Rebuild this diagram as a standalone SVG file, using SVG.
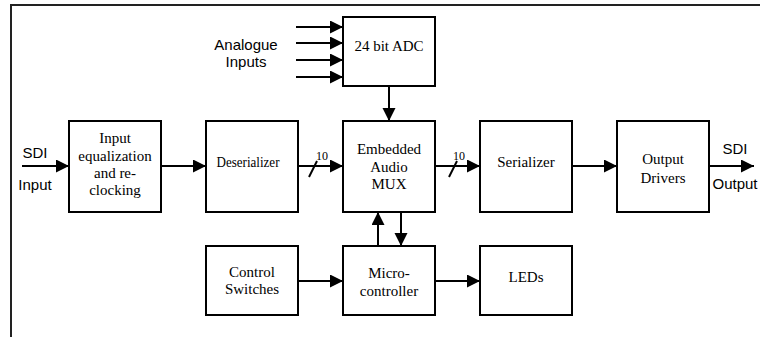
<svg xmlns="http://www.w3.org/2000/svg" width="760" height="337" viewBox="0 0 760 337">
<style>
.box{fill:#fff;stroke:#000;stroke-width:2}
.lbl{font-family:"Liberation Serif","Times New Roman",serif;font-size:15px;text-anchor:middle;fill:#000}
.sans{font-family:"Liberation Sans",Arial,sans-serif;font-size:15px;text-anchor:middle;fill:#000}
.small{font-family:"Liberation Serif","Times New Roman",serif;font-size:12px;text-anchor:middle;fill:#000}
.ln{stroke:#000;stroke-width:2;fill:none}
.arr{stroke:#000;stroke-width:2;fill:none;marker-end:url(#ah)}
</style>
<defs>
<marker id="ah" markerUnits="userSpaceOnUse" markerWidth="14" markerHeight="14" refX="13" refY="6.5" orient="auto">
<path d="M0,0 L13,6.5 L0,13 Z" fill="#000"/>
</marker>
</defs>
<rect width="760" height="337" fill="#fff"/>
<g id="frame">
<path d="M11,337 L11,5 L760,5" stroke="#222" stroke-width="2" fill="none"/>
</g>
<g id="connectors">
<line class="arr" x1="296" y1="27" x2="343" y2="27"/>
<line class="arr" x1="296" y1="43" x2="343" y2="43"/>
<line class="arr" x1="296" y1="60" x2="343" y2="60"/>
<line class="arr" x1="296" y1="77" x2="343" y2="77"/>
<line class="arr" x1="22" y1="166" x2="69" y2="166"/>
<line class="arr" x1="161" y1="166" x2="206" y2="166"/>
<line class="arr" x1="298" y1="166" x2="343" y2="166"/>
<line class="ln" x1="317" y1="161" x2="309" y2="177"/>
<line class="arr" x1="435" y1="166" x2="480" y2="166"/>
<line class="ln" x1="457" y1="161" x2="449" y2="177"/>
<line class="arr" x1="572" y1="166" x2="617" y2="166"/>
<line class="arr" x1="709" y1="166" x2="754" y2="166"/>
<line class="arr" x1="389" y1="86" x2="389" y2="121"/>
<line class="arr" x1="378" y1="246" x2="378" y2="212"/>
<line class="arr" x1="401" y1="212" x2="401" y2="246"/>
<line class="arr" x1="298" y1="281" x2="343" y2="281"/>
<line class="arr" x1="435" y1="281" x2="480" y2="281"/>
</g>
<g id="labels">
<text class="sans" x="246" y="50">Analogue</text>
<text class="sans" x="246" y="67">Inputs</text>
<text class="sans" x="35" y="158">SDI</text>
<text class="sans" x="35" y="190">Input</text>
<text class="sans" x="735" y="154">SDI</text>
<text class="sans" x="735" y="189">Output</text>
<text class="small" x="322" y="160">10</text>
<text class="small" x="459" y="160">10</text>
</g>
<g id="adc">
<rect class="box" x="343" y="17" width="92" height="69"/>
<text class="lbl" x="389" y="51">24 bit ADC</text>
</g>
<g id="input-eq">
<rect class="box" x="69" y="121" width="92" height="91"/>
<text class="lbl" x="115" y="143">Input</text>
<text class="lbl" x="115" y="160.5">equalization</text>
<text class="lbl" x="115" y="178">and re-</text>
<text class="lbl" x="115" y="195">clocking</text>
</g>
<g id="deserializer">
<rect class="box" x="206" y="121" width="92" height="91"/>
<text class="lbl" x="248" y="167" textLength="63" lengthAdjust="spacingAndGlyphs">Deserializer</text>
</g>
<g id="mux">
<rect class="box" x="343" y="121" width="92" height="91"/>
<text class="lbl" x="389" y="154">Embedded</text>
<text class="lbl" x="389" y="171.5">Audio</text>
<text class="lbl" x="389" y="189">MUX</text>
</g>
<g id="serializer">
<rect class="box" x="480" y="121" width="92" height="91"/>
<text class="lbl" x="526" y="167">Serializer</text>
</g>
<g id="output-drivers">
<rect class="box" x="617" y="121" width="92" height="91"/>
<text class="lbl" x="663" y="164">Output</text>
<text class="lbl" x="663" y="183">Drivers</text>
</g>
<g id="control-switches">
<rect class="box" x="206" y="246" width="92" height="69"/>
<text class="lbl" x="252" y="277">Control</text>
<text class="lbl" x="252" y="294">Switches</text>
</g>
<g id="microcontroller">
<rect class="box" x="343" y="246" width="92" height="69"/>
<text class="lbl" x="389" y="278">Micro-</text>
<text class="lbl" x="389" y="295.5">controller</text>
</g>
<g id="leds">
<rect class="box" x="480" y="246" width="92" height="69"/>
<text class="lbl" x="526" y="282">LEDs</text>
</g>
</svg>
